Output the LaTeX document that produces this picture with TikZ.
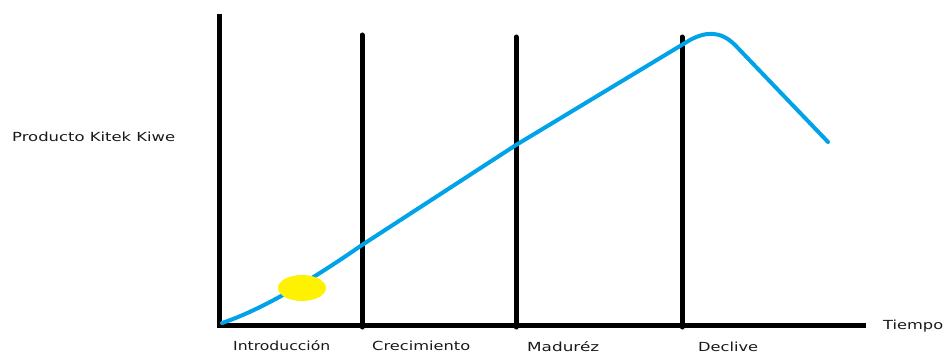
\documentclass[tikz,border=0pt]{standalone}
\usepackage{fontspec}
\usepackage{graphicx}
\setmainfont{DejaVu Sans}
\usetikzlibrary{shapes.geometric}
\definecolor{paintblue}{RGB}{0,162,232}
\definecolor{paintyellow}{RGB}{255,242,0}
\definecolor{textgray}{RGB}{25,25,25}
\newcommand{\wtext}[2]{\resizebox{#1}{\height}{#2}}
\begin{document}
\begin{tikzpicture}[x=1pt,y=-1pt,
  axis/.style={line width=5pt,black},
  phase/.style={line width=5pt,black,line cap=round},
  curve/.style={line width=4pt,paintblue,line cap=round,line join=round},
  lbl/.style={font=\fontsize{12.5}{14}\selectfont,text=textgray,inner sep=0pt,anchor=base west}]
\useasboundingbox (0,0) rectangle (945,353);
\fill[white] (0,0) rectangle (945,353);
% axes
\coordinate (ytop) at (219,14);
\coordinate (orig) at (219,325);
\coordinate (xend) at (866,325);
\draw[axis] (ytop) -- (orig) -- (xend);
% phase lines
\coordinate (p1t) at (362,35); \coordinate (p1b) at (362,327);
\coordinate (p2t) at (516,37); \coordinate (p2b) at (516,327);
\coordinate (p3t) at (682,37); \coordinate (p3b) at (682,327);
\draw[phase] (p1t) -- (p1b);
\draw[phase] (p2t) -- (p2b);
\draw[phase] (p3t) -- (p3b);
% curve
\draw[curve] (222,323) .. controls (255,312) and (300,288) .. (362,245)
  -- (516,145) -- (690,40) .. controls (705,32) and (720,30) .. (735,45)
  -- (828,142);
% yellow dot
\node[ellipse,fill=paintyellow,minimum width=48pt,minimum height=26pt,inner sep=0pt] (dot) at (302,288) {};
% labels
\node[lbl] (ylbl) at (12,141) {\wtext{163pt}{Producto Kitek Kiwe}};
\node[lbl] (xlbl) at (883,329) {\wtext{60pt}{Tiempo}};
\node[lbl] (l1) at (233,350) {\wtext{97pt}{Introducción}};
\node[lbl] (l2) at (372,350.5) {\wtext{98pt}{Crecimiento}};
\node[lbl] (l3) at (527,351) {\wtext{72pt}{Maduréz}};
\node[lbl] (l4) at (698,351) {\wtext{60pt}{Declive}};
\end{tikzpicture}
\end{document}
